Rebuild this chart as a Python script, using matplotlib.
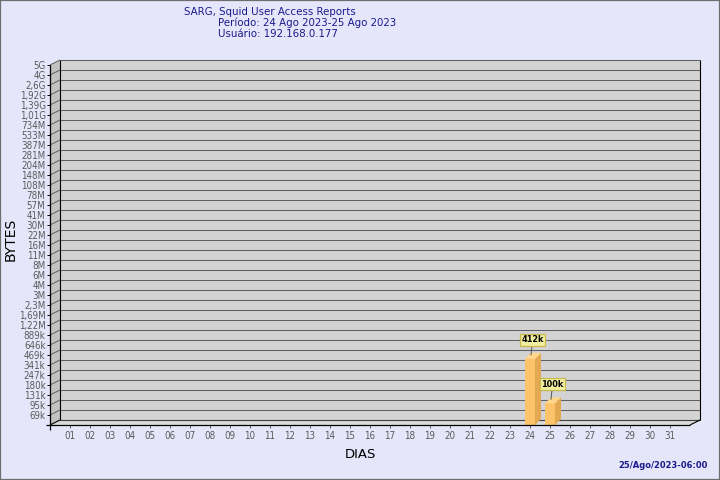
import numpy as np
import matplotlib
matplotlib.use("Agg")
import matplotlib.pyplot as plt
import matplotlib.transforms as mtransforms
from matplotlib.patches import Polygon, Rectangle
from matplotlib.lines import Line2D
from matplotlib.ticker import NullLocator

# data
days = list(range(1, 32))
day_labels = ["%02d" % d for d in days]
bar_days = [24, 25]
bar_bytes = [412000, 100000]
bar_labels = ["412k", "100k"]

y_labels = ["69k", "95k", "131k", "180k", "247k", "341k", "469k", "646k", "889k",
            "1,22M", "1,69M", "2,3M", "3M", "4M", "6M", "8M", "11M", "16M", "22M",
            "30M", "41M", "57M", "78M", "108M", "148M", "204M", "281M", "387M",
            "533M", "734M", "1,01G", "1,39G", "1,92G", "2,6G", "4G", "5G"]
y_base = 69000      # first labelled level
y_step = 1.375      # ratio between levels (log scale)
y_ticks = y_base * y_step ** np.arange(len(y_labels))

# colours
bg = "#e6e6fa"
navy = "#1a1a8c"
wall = "#d3d3d3"
side_wall = "#c2c2c2"
floor_c = "#dadada"
grid_c = "#606060"
tick_c = "#5a5a5a"
bar_front = "#fdc36b"
bar_side = "#e2a852"
bar_top = "#ffd68a"

W, H = 720, 480
DX, DY = 10, 5  # depth of the 3d box, in pixels
font = dict(family="DejaVu Sans", fontstretch="condensed")

fig = plt.figure(figsize=(W / 100, H / 100), dpi=100, facecolor=bg)
ax = fig.add_axes([50 / W, 55 / H, 640 / W, 360 / H])
ax.set_yscale("log")
ax.set_xlim(0, 32)
ax.set_ylim(y_base / y_step, y_ticks[-1])
ax.patch.set_visible(False)
for s in ["top", "right", "left", "bottom"]:
    ax.spines[s].set_visible(False)

ax.set_yticks(y_ticks, y_labels)
ax.yaxis.set_minor_locator(NullLocator())
ax.set_xticks(days, day_labels)
ax.tick_params(axis="y", length=2.2, width=0.7, color="black", labelcolor=tick_c,
               labelsize=7, pad=1)
ax.tick_params(axis="x", length=2.5, width=0.7, color=tick_c, labelcolor=tick_c,
               labelsize=7, pad=2)
for t in ax.get_xticklabels() + ax.get_yticklabels():
    t.set_fontstretch("condensed")

I = mtransforms.IdentityTransform()
x0, y0 = ax.transAxes.transform((0, 0))
x1, y1 = ax.transAxes.transform((1, 1))


def poly(pts, fc, z, ec="none"):
    ax.add_artist(Polygon(pts, closed=True, fc=fc, ec=ec, lw=0, transform=I,
                          clip_on=False, zorder=z))


def seg(xs, ys, c, lw, z):
    ax.add_artist(Line2D(xs, ys, color=c, lw=lw, transform=I, clip_on=False,
                         zorder=z, solid_capstyle="butt"))


# walls
poly([(x0 + DX, y0 + DY), (x1 + DX, y0 + DY), (x1 + DX, y1 + DY), (x0 + DX, y1 + DY)], wall, 0.5)
poly([(x0, y0), (x0, y1), (x0 + DX, y1 + DY), (x0 + DX, y0 + DY)], side_wall, 0.6)
poly([(x0, y0), (x1, y0), (x1 + DX, y0 + DY), (x0 + DX, y0 + DY)], floor_c, 0.6)

# grid on back wall + connectors on side wall
for v in y_ticks:
    yd = ax.transData.transform((0, v))[1]
    seg([x0 + DX, x1 + DX], [yd + DY, yd + DY], grid_c, 0.75, 0.8)
    seg([x0, x0 + DX], [yd, yd + DY], grid_c, 0.7, 0.8)

# box edges
seg([x0 + DX, x1 + DX], [y0 + DY, y0 + DY], "#404040", 0.8, 0.9)
seg([x0 + DX, x0 + DX], [y0 + DY, y1 + DY], "black", 0.8, 0.9)
seg([x0, x0 + DX], [y0, y0 + DY], "black", 0.8, 0.9)
seg([x1 + DX, x1 + DX], [y0 + DY, y1 + DY], "black", 0.8, 0.9)
seg([x1, x1 + DX], [y0, y0 + DY], "black", 0.8, 0.9)
seg([x0, x0], [y0 - 5, y1], "black", 0.9, 5)
seg([x0 - 4, x1], [y0, y0], "black", 0.9, 5)

# bars
bottom = y_base / y_step
ax.bar(bar_days, np.array(bar_bytes) - bottom, width=0.5, bottom=bottom,
       color=bar_front, zorder=3)
BD = 6
for d, v, lbl in zip(bar_days, bar_bytes, bar_labels):
    xl, yb = ax.transData.transform((d - 0.25, bottom))
    xr, yt = ax.transData.transform((d + 0.25, v))
    poly([(xr, yb), (xr, yt), (xr + BD, yt + BD), (xr + BD, yb + BD)], bar_side, 2.9)
    poly([(xl, yt), (xr, yt), (xr + BD, yt + BD), (xl + BD, yt + BD)], bar_top, 3.1)
    ax.annotate(lbl, xy=(d, v),
                xycoords=ax.transData + mtransforms.ScaledTranslation(0.01, 0.04, fig.dpi_scale_trans),
                xytext=(1.5, 15), textcoords="offset pixels", ha="center", va="center",
                fontsize=6.5, fontweight="bold", color="black", fontfamily="DejaVu Sans",
                fontstretch="condensed",
                bbox=dict(boxstyle="square,pad=0.15", fc="#f2eea0", ec="#c9b94c", lw=0.9),
                arrowprops=dict(arrowstyle="-", color="#555555", lw=0.7, shrinkA=0, shrinkB=0),
                zorder=6)

# texts
fig.text(184 / W, 1 - 15 / H, "SARG, Squid User Access Reports", color=navy,
         fontsize=8.2, ha="left", va="baseline", **font)
fig.text(218 / W, 1 - 26.5 / H, "Período: 24 Ago 2023-25 Ago 2023", color=navy,
         fontsize=8.2, ha="left", va="baseline", **font)
fig.text(218 / W, 1 - 37 / H, "Usuário: 192.168.0.177", color=navy,
         fontsize=8.2, ha="left", va="baseline", **font)
fig.text(11 / W, 1 - 239 / H, "BYTES", rotation=90, color="black", fontsize=10,
         ha="center", va="center", family="DejaVu Sans")
fig.text(360 / W, 1 - 455 / H, "DIAS", color="black", fontsize=9.5,
         ha="center", va="center", family="DejaVu Sans")
fig.text(708 / W, 1 - 466 / H, "25/Ago/2023-06:00", color=navy, fontsize=6,
         fontweight="bold", ha="right", va="center", family="DejaVu Sans")

fig.add_artist(Rectangle((0, 0), 1, 1, transform=fig.transFigure, fill=False,
                         ec="#6e6e6e", lw=1.6))

fig.savefig("out.png", dpi=100, facecolor=bg)
